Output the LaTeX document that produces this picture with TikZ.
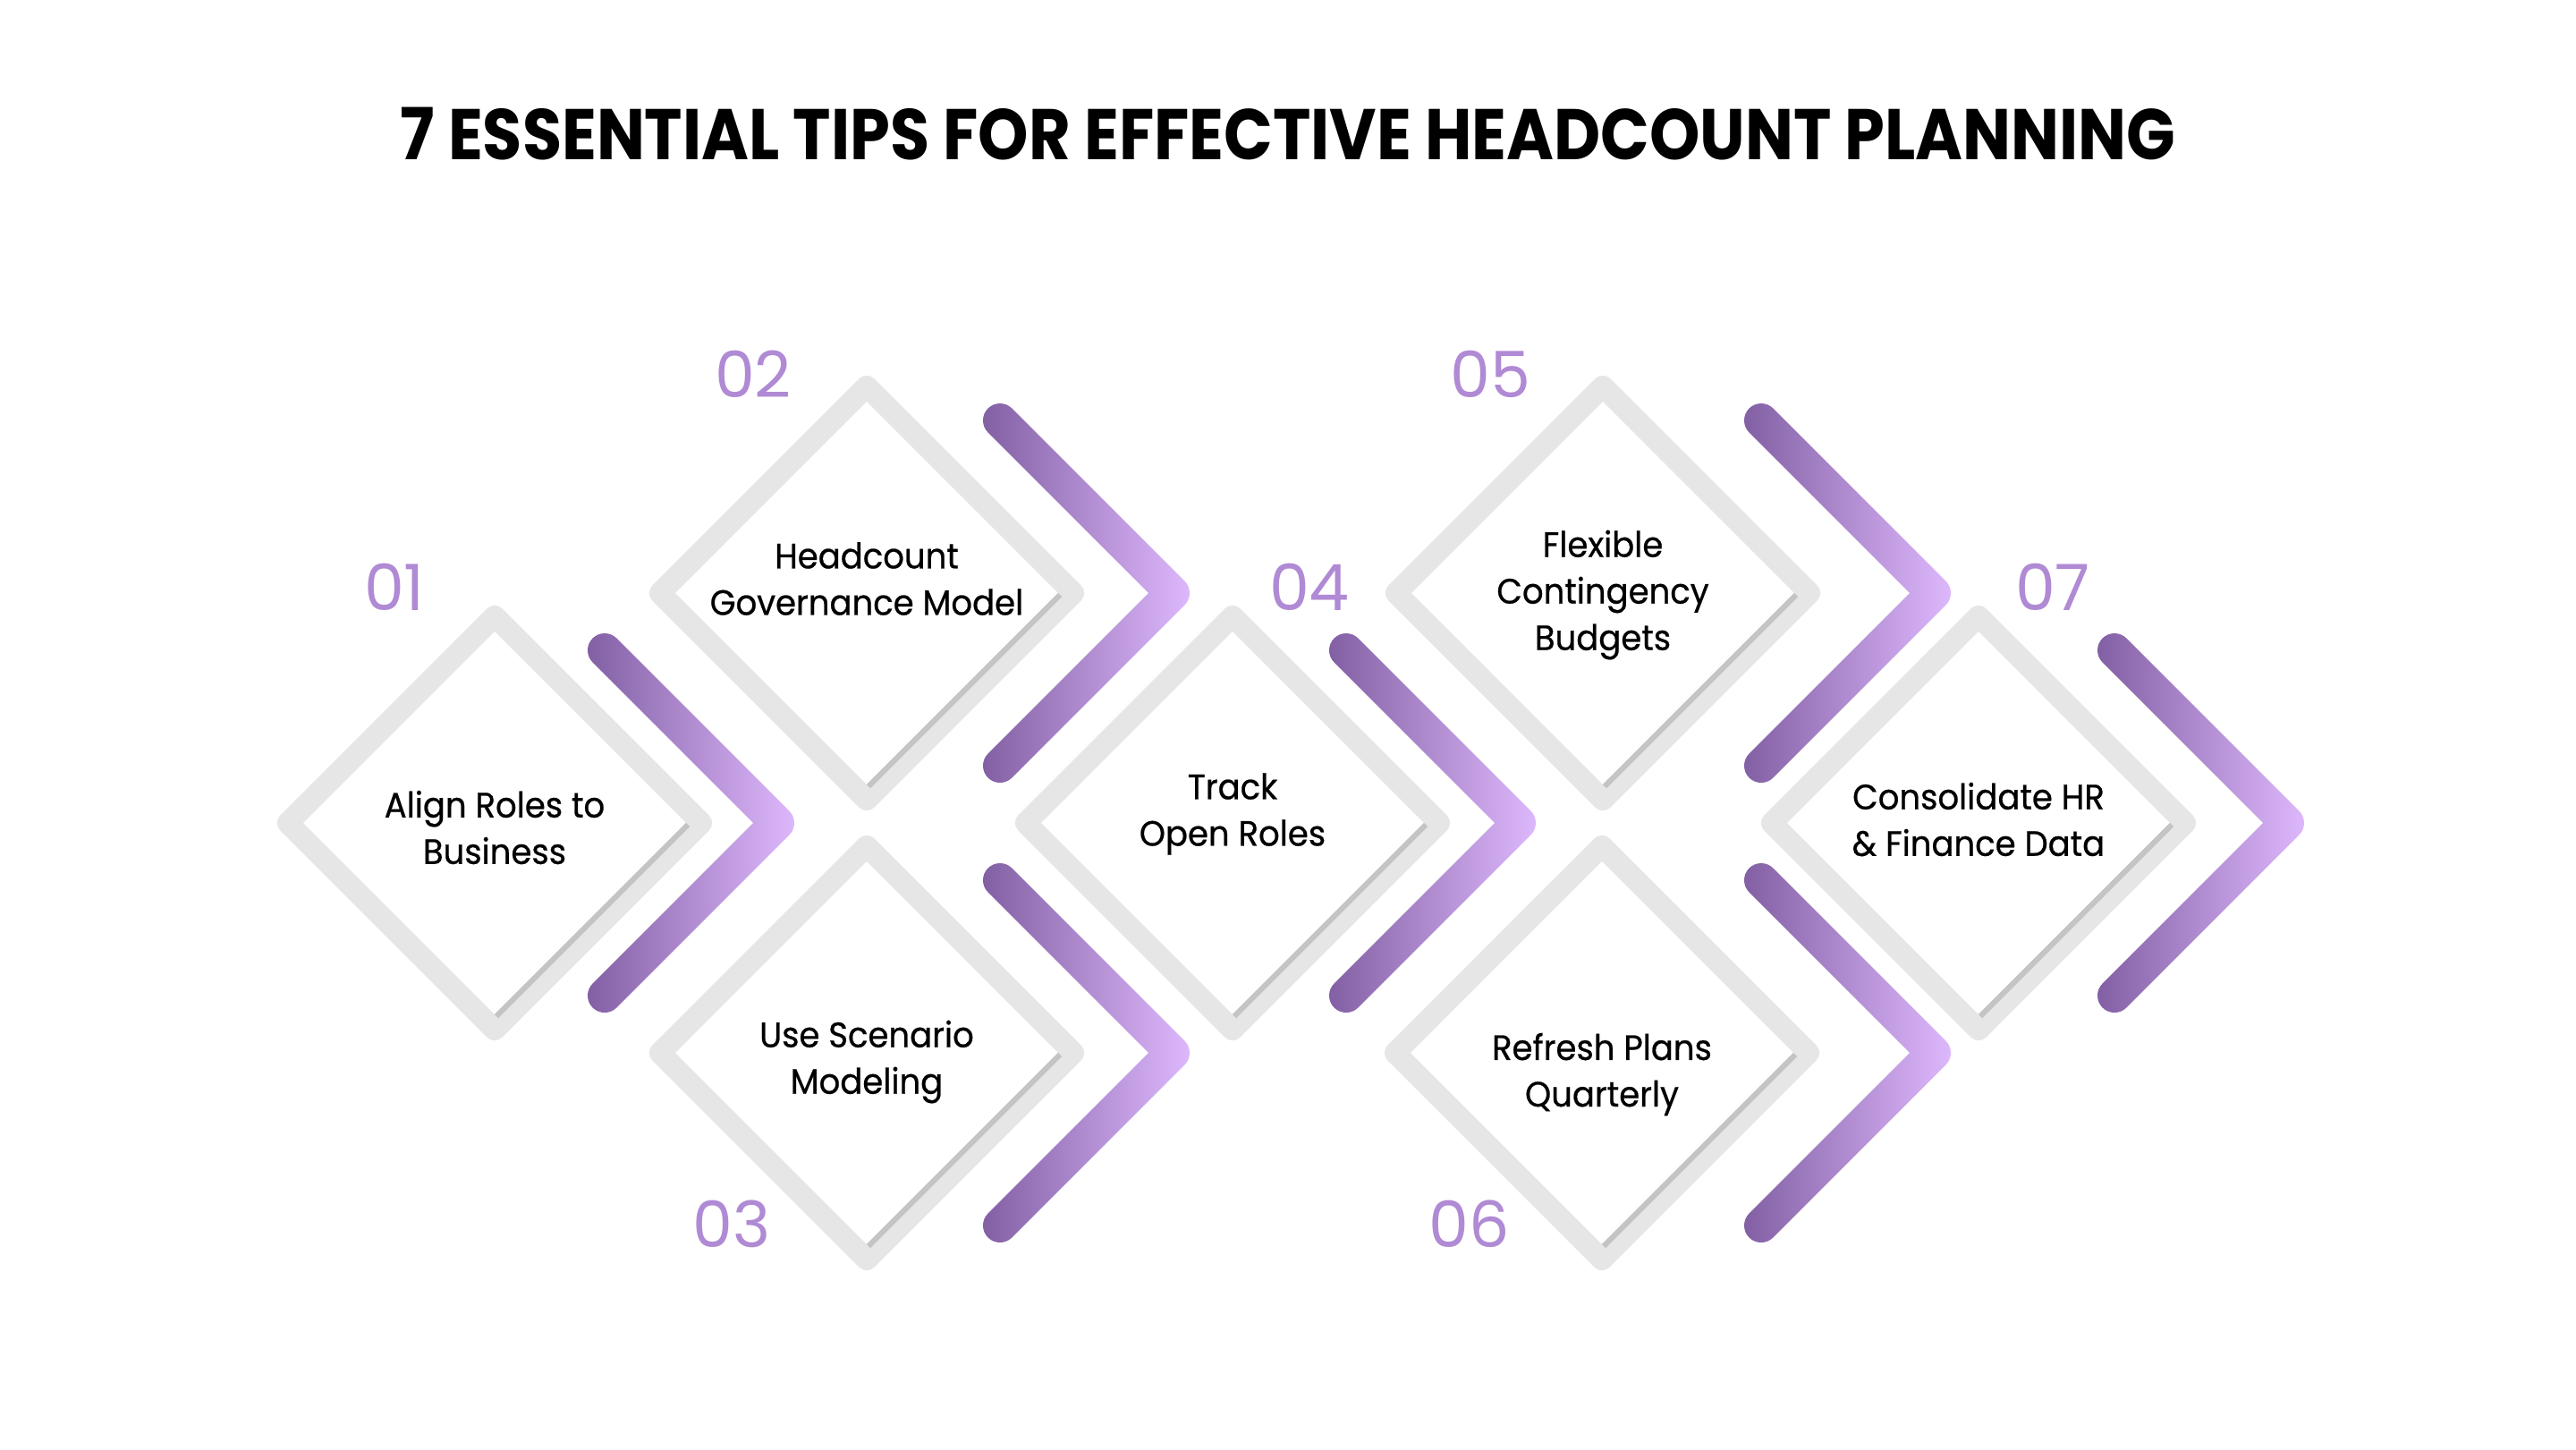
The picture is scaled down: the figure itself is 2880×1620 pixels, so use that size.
\documentclass[tikz,border=0pt]{standalone}
\usepackage{fontspec}
\usetikzlibrary{calc,shapes.geometric}
\newfontfamily\titlefont{Poppins}[FakeStretch=0.895]
\newfontfamily\tipfont{Poppins}[FakeStretch=0.94, FakeBold=0.6]
\newfontfamily\numfont{Poppins}
\definecolor{tipgray}{HTML}{E6E6E6}
\definecolor{tipshade}{HTML}{C4C4C4}
\definecolor{chevdark}{HTML}{825FA3}
\definecolor{chevlight}{HTML}{DEB8FC}
\definecolor{numcol}{HTML}{B08AD4}

\begin{document}
\begin{tikzpicture}[x=0.01cm, y=-0.01cm,
    tipbox/.style={diamond, draw=tipgray, line width=0.24cm, line join=round,
      minimum width=4.62cm, minimum height=4.62cm, inner sep=0pt, outer sep=0pt},
    tipshadow/.style={draw=tipshade, line width=0.06cm},
    tiptext/.style={align=center, text=black, font=\tipfont\fontsize{11.2}{14.8}\selectfont},
    tipnum/.style={text=numcol, inner sep=0pt, font=\numfont\fontsize{20.3}{24}\selectfont},
    chevron/.style={left color=chevdark, right color=chevlight}]
	%\draw[step=100,gray,very thin] (0,0) grid (2880,1620);
	\fill[white] (0,0) rectangle (2880,1620);
	\useasboundingbox (0,0) rectangle (2880,1620);
	\node[anchor=base, font=\titlefont\bfseries\fontsize{22.8}{27}\selectfont] (title) at (1440,178)
	  {7 ESSENTIAL TIPS FOR EFFECTIVE HEADCOUNT PLANNING};
	\foreach \n/\cx/\cy/\vx/\nx/\ny/\ty/\txt in {
	    01/553/920/869/441/656/925/{Align Roles to\\Business},
	    02/969/663/1311/842/418/647/{Headcount\\Governance Model},
	    03/969/1177/1311/818/1368/1187/{Use Scenario\\Modeling},
	    04/1378/920/1698/1464/656/910/{Track\\Open Roles},
	    05/1792/663/2162/1666/418/665/{Flexible\\Contingency\\Budgets},
	    06/1791/1177/2162/1643/1368/1201/{Refresh Plans\\Quarterly},
	    07/2212/920/2557/2295/656/916/{Consolidate HR\\\& Finance Data}}{
	  \node[tipbox] (d\n) at (\cx,\cy) {};
	  \draw[tipshadow] ($(d\n.east)+(-15,2)$) -- ($(d\n.south)+(2,-15)$);
	  \node[tiptext] (t\n) at (\cx,\ty) {\txt};
	  \node[tipnum] (n\n) at (\nx,\ny) {\n};
	  \coordinate (v\n) at (\vx,\cy);
	  \coordinate (a\n) at ($(v\n)+(-193,-193)$);
	  \coordinate (b\n) at ($(v\n)+(-193,193)$);
	  \shade[chevron] ($(a\n)+(-45:19)$) -- ($(v\n)+(-45:19)$)
	    arc[start angle=-45, end angle=45, radius=19] -- ($(b\n)+(45:19)$)
	    arc[start angle=45, end angle=225, radius=19] -- ($(v\n)+(-26.87,0)$)
	    -- ($(a\n)+(135:19)$) arc[start angle=135, end angle=315, radius=19] -- cycle;
	}
\end{tikzpicture}
\end{document}
